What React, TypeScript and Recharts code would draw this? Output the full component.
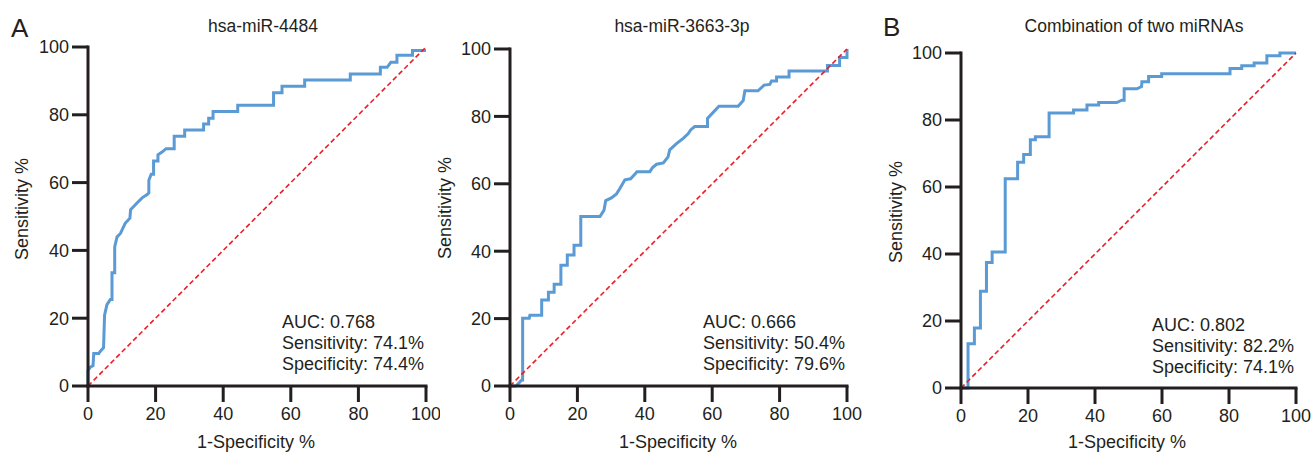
import { LineChart, Line, XAxis, YAxis } from "recharts"

const axisTicks = [0, 20, 40, 60, 80, 100]

// hsa-miR-4484 ROC vertices (1-specificity %, sensitivity %)
const fpr4484 = [
  0, 0, 0.6, 1.5, 1.7, 3.2, 3.6, 4.6, 4.9, 5.6, 6.6, 7.1, 7.1, 7.9, 7.9, 8.6, 9.6, 11, 12.4, 12.6,
  14.5, 16, 17.5, 18, 18, 18.7, 19.4, 19.4, 20.7, 20.7, 21.9, 23.1, 25.5, 25.5, 28.6, 28.6, 34.2,
  34.2, 35.7, 35.7, 37, 37, 44.3, 44.3, 54.9, 54.9, 57.4, 57.4, 64.1, 64.1, 77.6, 77.6, 86.5, 86.5,
  88.5, 89.6, 91.4, 91.4, 96, 96, 100,
]
const tpr4484 = [
  0, 4.5, 5.5, 6, 9.6, 9.6, 10.2, 11.3, 20.9, 24, 25.5, 25.5, 33.4, 33.4, 41, 44, 45, 48, 49.5, 52,
  54, 55.5, 56.5, 57, 60.7, 62.5, 62.5, 66.4, 66.4, 68.2, 69, 70, 70, 73.7, 73.7, 75.5, 75.5, 77.3,
  77.3, 79, 79, 81, 81, 82.8, 82.8, 86.5, 86.5, 88.4, 88.4, 90.3, 90.3, 92, 92, 94, 94, 95.5, 95.5,
  97.6, 97.6, 99, 99,
]

// hsa-miR-3663-3p ROC vertices
const fpr3663 = [
  0, 1.8, 3.5, 3.75, 3.75, 5.7, 5.9, 9.4, 9.4, 11.4, 11.4, 13.1, 13.1, 15.1, 15.1, 17, 17, 19, 19,
  21, 21, 26.7, 27.9, 28.4, 30.1, 31.6, 32.6, 34.1, 35.8, 37.7, 41.5, 42.3, 43.5, 45.5, 46.9, 47.4,
  49.4, 51.4, 52.9, 53.6, 54.8, 58.6, 58.6, 60.3, 62, 67.7, 69.2, 69.7, 73.6, 75.4, 77.1, 77.6, 79.1,
  79.1, 82.8, 82.8, 94.2, 94.2, 97.8, 97.8, 100, 100,
]
const tpr3663 = [
  0, 0, 1.8, 1.8, 20.1, 20.1, 21, 21, 25.5, 25.5, 27.8, 27.8, 30.2, 30.2, 35.8, 35.8, 38.9, 38.9,
  41.8, 41.8, 50.3, 50.3, 52.2, 55, 55.8, 57, 58.6, 61.2, 61.5, 63.6, 63.6, 64.8, 65.8, 66.2, 68,
  70.1, 71.9, 73.5, 74.9, 76, 77, 77, 79.4, 81.2, 83, 83, 84.7, 87.6, 87.6, 89.3, 89.5, 90.5, 90.5,
  91.7, 91.7, 93.5, 93.5, 95.1, 95.1, 97.5, 97.5, 100,
]

// combination of two miRNAs ROC vertices
const fprCombo = [
  0, 2.1, 2.1, 4, 4, 5.8, 5.8, 7.6, 7.6, 9.3, 9.3, 13.2, 13.2, 16.9, 16.9, 18.7, 18.7, 20.7, 20.7,
  22.2, 22.2, 26.3, 26.3, 33.6, 33.6, 37.6, 37.6, 41.1, 41.1, 46.5, 48, 48.7, 48.7, 52.5, 53.9, 54,
  56, 56, 59.9, 59.9, 80.3, 80.3, 83.8, 83.8, 87.5, 87.5, 91.3, 91.3, 95.2, 95.2, 100,
]
const tprCombo = [
  0, 0, 13.2, 13.2, 17.9, 17.9, 28.9, 28.9, 37.5, 37.5, 40.6, 40.6, 62.5, 62.5, 67.4, 67.4, 69.7,
  69.7, 74.1, 74.1, 75, 75, 82.1, 82.1, 83, 83, 84.5, 84.5, 85.2, 85.2, 85.9, 85.9, 89.3, 89.3, 90,
  91.4, 91.4, 93, 93, 93.8, 93.8, 95.4, 95.4, 96.2, 96.2, 97, 97, 99.2, 99.2, 100, 100,
]

const chance = [0, 100]

const toPoints = (fpr: number[], tpr: number[]) => fpr.map((x, i) => ({ fpr: x, tpr: tpr[i] }))
const diagonal = chance.map((v) => ({ fpr: v, tpr: v }))

const INK = "#231f20"
const BLUE = "#5b9bd5"
const RED = "#ee1c25"
const FONT = '"Liberation Sans", Arial, Helvetica, sans-serif'

interface PanelProps {
  left: number
  width: number
  top: number
  yAxisWidth: number
  right: number
  xAxisHeight: number
  fpr: number[]
  tpr: number[]
}

function RocPanel({ left, width, top, yAxisWidth, right, xAxisHeight, fpr, tpr }: PanelProps) {
  const axisStyle = { stroke: INK, strokeWidth: 3, strokeLinecap: "square" as const }
  const tickStyle = { fill: INK, fontSize: 18, fontFamily: FONT }
  return (
    <div style={{ position: "absolute", left, top: 0 }}>
      <LineChart width={width} height={453} margin={{ top, right, bottom: 0, left: 0 }}>
        <XAxis
          type="number"
          dataKey="fpr"
          domain={[0, 100]}
          ticks={axisTicks}
          height={xAxisHeight}
          tickSize={16}
          tickMargin={5}
          axisLine={axisStyle}
          tickLine={{ stroke: INK, strokeWidth: 3 }}
          tick={tickStyle}
        />
        <YAxis
          type="number"
          domain={[0, 100]}
          ticks={axisTicks}
          width={yAxisWidth}
          tickSize={16}
          tickMargin={3}
          axisLine={axisStyle}
          tickLine={{ stroke: INK, strokeWidth: 3 }}
          tick={tickStyle}
        />
        <Line
          data={toPoints(fpr, tpr)}
          dataKey="tpr"
          type="linear"
          stroke={BLUE}
          strokeWidth={3}
          dot={false}
          activeDot={false}
          isAnimationActive={false}
        />
        <Line
          data={diagonal}
          dataKey="tpr"
          type="linear"
          stroke={RED}
          strokeWidth={1.6}
          strokeDasharray="5 3"
          dot={false}
          activeDot={false}
          isAnimationActive={false}
        />
      </LineChart>
    </div>
  )
}

function Annotation({ x, y, lines }: { x: number; y: number; lines: string[] }) {
  return (
    <text x={x} y={y} fontSize={18} fill={INK} fontFamily={FONT}>
      {lines.map((l, i) => (
        <tspan key={i} x={x} y={y + i * 21}>
          {l}
        </tspan>
      ))}
    </text>
  )
}

export default function App() {
  return (
    <div style={{ position: "absolute", left: 0, top: 0, width: 1313, height: 453, background: "#fff" }}>
      <RocPanel left={0} width={440} top={47} yAxisWidth={88} right={14} xAxisHeight={67} fpr={fpr4484} tpr={tpr4484} />
      <RocPanel left={440} width={430} top={49} yAxisWidth={70} right={23} xAxisHeight={67} fpr={fpr3663} tpr={tpr3663} />
      <RocPanel left={870} width={443} top={53} yAxisWidth={91} right={17} xAxisHeight={65} fpr={fprCombo} tpr={tprCombo} />
      <svg
        width={1313}
        height={453}
        style={{ position: "absolute", left: 0, top: 0, pointerEvents: "none" }}
      >
        <g fontFamily={FONT} fill={INK}>
          <text x={11} y={37} fontSize={26}>A</text>
          <text x={883} y={36} fontSize={26}>B</text>
          <text x={263} y={32} fontSize={17.5} textAnchor="middle">hsa-miR-4484</text>
          <text x={682} y={32} fontSize={17.5} textAnchor="middle">hsa-miR-3663-3p</text>
          <text x={1134} y={32} fontSize={17.5} textAnchor="middle">Combination of two miRNAs</text>
          <text x={28} y={209} fontSize={18} textAnchor="middle" transform="rotate(-90 28 209)">Sensitivity %</text>
          <text x={451} y={208} fontSize={18} textAnchor="middle" transform="rotate(-90 451 208)">Sensitivity %</text>
          <text x={902} y={212} fontSize={18} textAnchor="middle" transform="rotate(-90 902 212)">Sensitivity %</text>
          <text x={256} y={448} fontSize={18} textAnchor="middle">1-Specificity %</text>
          <text x={678} y={448} fontSize={18} textAnchor="middle">1-Specificity %</text>
          <text x={1127} y={448} fontSize={18} textAnchor="middle">1-Specificity %</text>
        </g>
        <Annotation x={282} y={328} lines={["AUC: 0.768", "Sensitivity: 74.1%", "Specificity: 74.4%"]} />
        <Annotation x={703} y={328} lines={["AUC: 0.666", "Sensitivity: 50.4%", "Specificity: 79.6%"]} />
        <Annotation x={1152} y={331} lines={["AUC: 0.802", "Sensitivity: 82.2%", "Specificity: 74.1%"]} />
      </svg>
    </div>
  )
}
